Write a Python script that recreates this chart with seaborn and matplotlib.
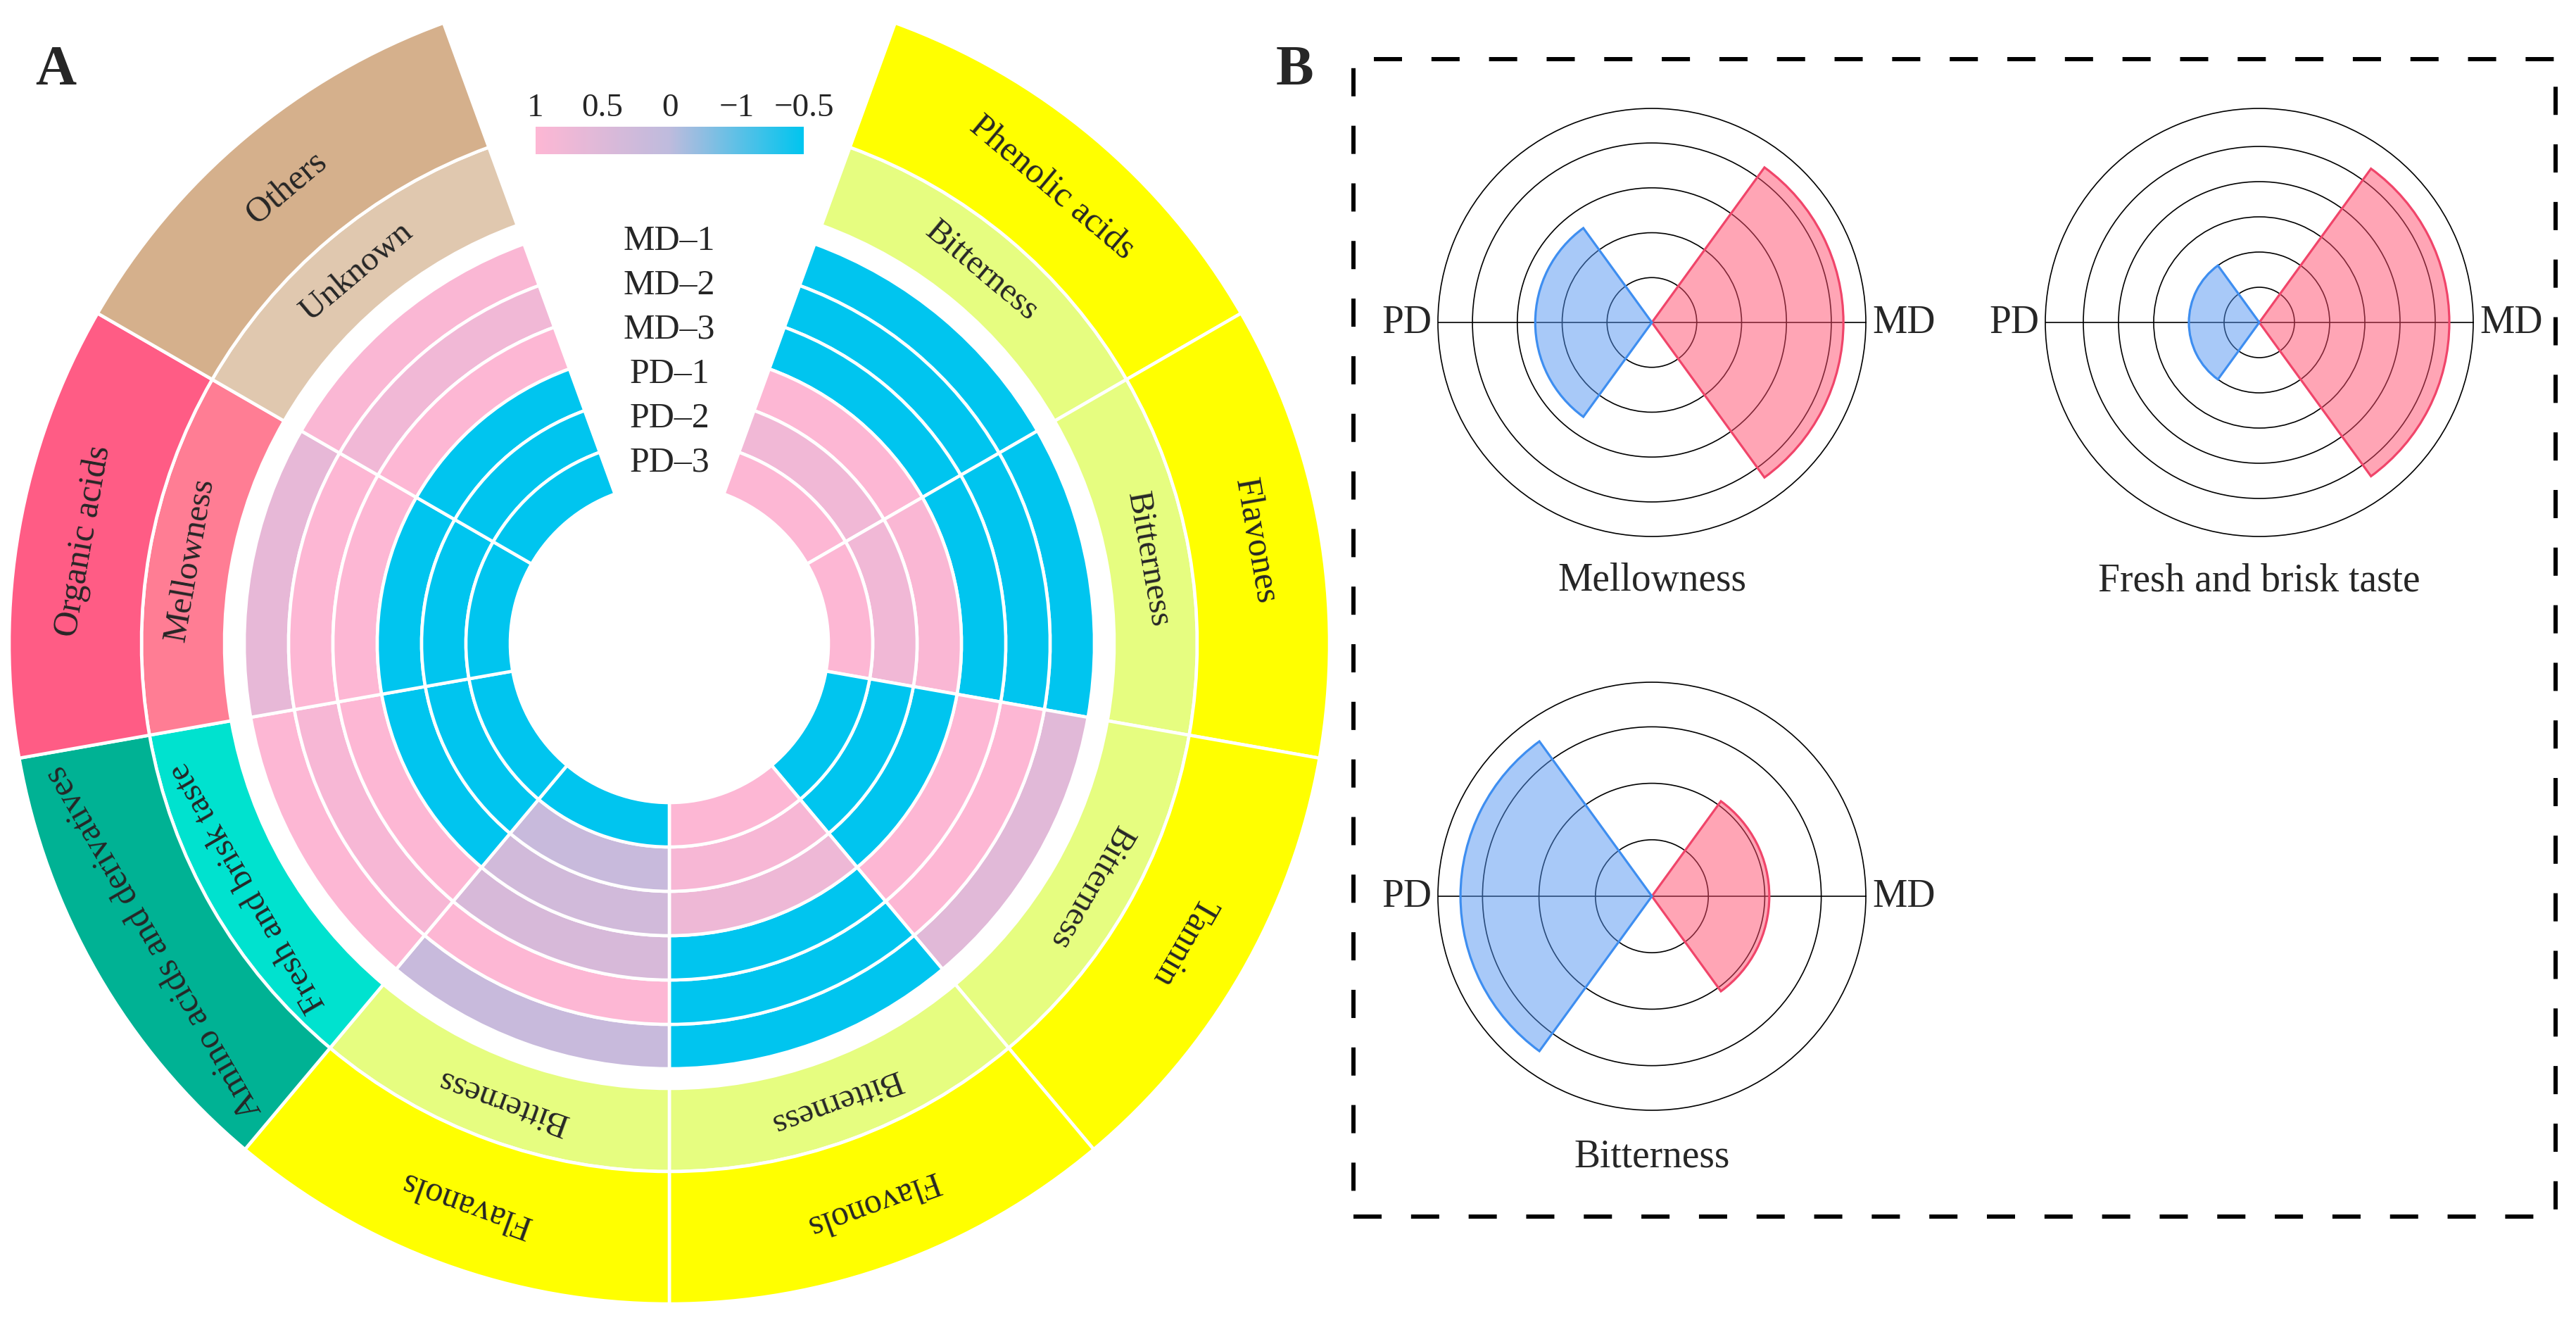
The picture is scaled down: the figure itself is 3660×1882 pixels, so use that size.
#Circular heatmap of taste compounds (A) and rose plots of taste scores (B)

import numpy as np
import matplotlib
matplotlib.use('Agg')
import matplotlib.pyplot as plt
import seaborn as sns
from matplotlib.colors import Normalize, to_rgba
from matplotlib.cm import ScalarMappable
from matplotlib.patches import Rectangle

#panel A data: one value per compound class, order clockwise from the top gap
compounds = ['Phenolic acids', 'Flavones', 'Tannin', 'Flavonols', 'Flavanols',
             'Amino acids and derivatives', 'Organic acids', 'Others']
tastes = ['Bitterness', 'Bitterness', 'Bitterness', 'Bitterness', 'Bitterness',
          'Fresh and brisk taste', 'Mellowness', 'Unknown']
samples = ['MD–1', 'MD–2', 'MD–3', 'PD–1', 'PD–2', 'PD–3']
md1 = [-1.0, -1.0, 0.55, -1.0, 0.15, 1.0, 0.65, 0.95]
md2 = [-1.0, -1.0, 1.0, -1.0, 1.0, 0.9, 1.0, 0.8]
md3 = [-1.0, -1.0, 1.0, -1.0, 0.4, 1.0, 1.0, 1.0]
pd1 = [1.0, 0.95, -1.0, 0.75, 0.3, -1.0, -1.0, -1.0]
pd2 = [0.8, 0.8, -1.0, 0.9, 0.15, -1.0, -1.0, -1.0]
pd3 = [1.0, 1.0, -1.0, 1.0, -1.0, -1.0, -1.0, -1.0]
cbar_ticks = [1, 0.5, 0, -0.5, -1]
cbar_labels = ['1', '0.5', '0', '−1', '−0.5']

compound_colors = ['#FFFF00'] * 5 + ['#00B294', '#FF5C85', '#D5B08C']
taste_colors = ['#E6FD80'] * 5 + ['#00E2CF', '#FF7D94', '#E0C8AF']

#panel B data
rose_titles = ['Mellowness', 'Fresh and brisk taste', 'Bitterness']
rose_md = [4.27, 5.4, 2.08]
rose_pd = [2.6, 2.0, 3.39]
rose_rmax = [4.77, 6.08, 3.79]

sns.set_style("white")
plt.rcParams['font.family'] = ['Liberation Serif', 'DejaVu Serif']

W, H = 3660, 1883
fig = plt.figure(figsize=(W / 100, H / 100), dpi=100)

cmap = sns.blend_palette(['#00C5EF', '#BEBBDD', '#FDB7D4'], as_cmap=True)
norm = Normalize(vmin=-1, vmax=1)

#---- panel A ----
cx, cy, R = 951, 915, 940
axA = fig.add_axes([(cx - R) / W, (H - cy - R) / H, 2 * R / W, 2 * R / H],
                   projection='polar')
axA.set_theta_zero_location('N')
axA.set_theta_direction(-1)
axA.set_ylim(0, R)
axA.set_axis_off()

n = len(compounds)
step = 320 / n
theta = np.deg2rad(20 + step / 2 + step * np.arange(n))
width = np.deg2rad(step)

r_hole, ring = 226, 63
heat = [md1, md2, md3, pd1, pd2, pd3]
for i, row in enumerate(heat):
    bottom = r_hole + ring * (len(heat) - 1 - i)
    axA.bar(theta, ring, width=width, bottom=bottom,
            color=[cmap(norm(v)) for v in row], edgecolor='white', linewidth=3.3)
    axA.text(0, bottom + ring / 2, samples[i], ha='center', va='center', fontsize=36)

axA.bar(theta, 118, width=width, bottom=632, color=taste_colors,
        edgecolor='white', linewidth=3.3)
axA.bar(theta, 188, width=width, bottom=750, color=compound_colors,
        edgecolor='white', linewidth=3.3)
for t, lab_in, lab_out in zip(theta, tastes, compounds):
    rot = -np.rad2deg(t)
    axA.text(t, 691, lab_in, rotation=rot, rotation_mode='anchor',
             ha='center', va='center', fontsize=35)
    axA.text(t, 845, lab_out, rotation=rot, rotation_mode='anchor',
             ha='center', va='center', fontsize=36)

#colour bar, pink on the left
cax = fig.add_axes([761 / W, (H - 220) / H, 381 / W, 39 / H])
cb = fig.colorbar(ScalarMappable(norm=norm, cmap=cmap), cax=cax, orientation='horizontal')
cb.outline.set_visible(False)
cax.invert_xaxis()
cb.set_ticks(cbar_ticks)
cb.set_ticklabels(cbar_labels)
cax.xaxis.set_ticks_position('top')
cax.tick_params(length=0, labelsize=34, pad=4)

#---- panel B ----
centers = [(2347, 459), (3210, 459), (2347, 1274)]
title_y = [825, 825, 1643]
rr = 304
pink, pink_edge = '#FF4D6D', '#F0456A'
blue, blue_edge = '#5294F2', '#3E8EF0'
for title, md, pdv, rm, (px, py), ty in zip(rose_titles, rose_md, rose_pd, rose_rmax,
                                             centers, title_y):
    ax = fig.add_axes([(px - rr) / W, (H - py - rr) / H, 2 * rr / W, 2 * rr / H],
                      projection='polar')
    ax.set_ylim(0, rm)
    ax.bar([0, np.pi], [md, pdv], width=np.deg2rad(108),
           color=[to_rgba(pink, 0.5), to_rgba(blue, 0.5)],
           edgecolor=[pink_edge, blue_edge], linewidth=2.3, zorder=3)
    ax.set_yticks(np.arange(1, round(rm)))
    ax.set_yticklabels([])
    ax.set_xticks([0, np.pi])
    ax.set_xticklabels([])
    ax.grid(True, color='black', linewidth=1.2)
    ax.spines['polar'].set_color('black')
    ax.spines['polar'].set_linewidth(1.2)
    ax.text(0, rm * 1.03, 'MD', ha='left', va='center', fontsize=40)
    ax.text(np.pi, rm * 1.03, 'PD', ha='right', va='center', fontsize=40)
    fig.text(px / W, 1 - ty / H, title, ha='center', va='center', fontsize=40)

#dashed frame around B
fig.add_artist(Rectangle((1923 / W, 1 - 1729 / H), (3631 - 1923) / W, (1729 - 85) / H,
                         transform=fig.transFigure, fill=False, edgecolor='black',
                         linewidth=4.3, linestyle=(0, (6.7, 7))))

fig.text(79 / W, 1 - 100 / H, 'A', fontsize=58, fontweight='bold', ha='center', va='center')
fig.text(1840 / W, 1 - 100 / H, 'B', fontsize=58, fontweight='bold', ha='center', va='center')

plt.savefig('out.png', dpi=100)
